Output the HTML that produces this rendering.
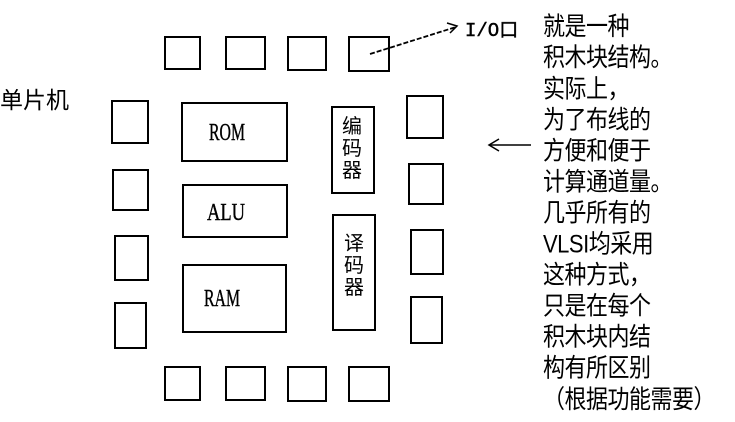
<!DOCTYPE html>
<html><head><meta charset="utf-8"><style>
html,body{margin:0;padding:0;background:#fff;}
body{width:735px;height:422px;position:relative;overflow:hidden;font-family:"Liberation Sans","Noto Sans CJK SC",sans-serif;}
.t{position:absolute;left:543px;top:11px;font-size:22px;line-height:27px;color:#000;transform:scaleY(1.15);transform-origin:0 0;letter-spacing:-0.5px;white-space:pre;font-family:"Liberation Sans","WenQuanYi Zen Hei",sans-serif;}
</style></head><body>
<svg width="735" height="422" style="position:absolute;left:0;top:0" xmlns="http://www.w3.org/2000/svg">
<g fill="none" stroke="#000" stroke-width="2">
<rect x="165" y="37" width="35" height="32"/>
<rect x="226" y="37" width="39" height="32"/>
<rect x="288" y="37" width="38" height="33"/>
<rect x="349" y="37" width="40" height="34"/>
<rect x="165" y="367" width="35" height="33"/>
<rect x="226" y="367" width="39" height="33"/>
<rect x="288" y="367" width="38" height="34"/>
<rect x="349" y="367" width="40" height="34"/>
<rect x="112" y="101" width="36" height="42"/>
<rect x="113" y="170" width="35" height="40"/>
<rect x="115" y="236" width="33" height="44"/>
<rect x="115" y="303" width="31" height="45"/>
<rect x="407" y="96" width="36" height="42"/>
<rect x="409" y="164" width="34" height="40"/>
<rect x="411" y="230" width="32" height="44"/>
<rect x="411" y="297" width="31" height="46"/>
<rect x="182" y="103" width="105" height="58"/>
<rect x="183" y="185" width="104" height="52"/>
<rect x="183" y="265" width="103" height="67"/>
<rect x="332" y="107" width="42" height="86"/>
<rect x="333" y="215" width="42" height="115"/>
</g>
<line x1="370" y1="54" x2="456" y2="27" stroke="#000" stroke-width="1.8" stroke-dasharray="5,2"/>
<polyline points="447,23 457,26 450,33" fill="none" stroke="#000" stroke-width="1.5"/>
<line x1="490" y1="145" x2="531" y2="145" stroke="#000" stroke-width="1.5"/>
<polyline points="499,139 489,145 499,151" fill="none" stroke="#000" stroke-width="1.5"/>
<g font-family="Liberation Serif,serif" font-size="24" text-anchor="middle" stroke="#000" stroke-width="0.4">
<text x="227" y="140" textLength="36" lengthAdjust="spacingAndGlyphs">ROM</text>
<text x="226" y="220" textLength="38" lengthAdjust="spacingAndGlyphs">ALU</text>
<text x="222" y="306" textLength="36" lengthAdjust="spacingAndGlyphs">RAM</text>
</g>
<text x="465" y="36" font-family="Liberation Mono,WenQuanYi Zen Hei,monospace" font-size="19" stroke="#000" stroke-width="0.4">I/O口</text>
<g font-family="WenQuanYi Zen Hei,sans-serif" font-size="20" text-anchor="middle">
<text x="352" y="133">编</text><text x="352" y="155">码</text><text x="352" y="177">器</text>
<text x="354" y="250">译</text><text x="354" y="272">码</text><text x="354" y="294">器</text>
</g>
<text x="0" y="108" font-family="WenQuanYi Zen Hei,sans-serif" font-size="23">单片机</text>
</svg>
<div class="t">就是一种
积木块结构。
实际上，
为了布线的
方便和便于
计算通道量。
几乎所有的
VLSI均采用
这种方式，
只是在每个
积木块内结
构有所区别
（根据功能需要）</div>
</body></html>
